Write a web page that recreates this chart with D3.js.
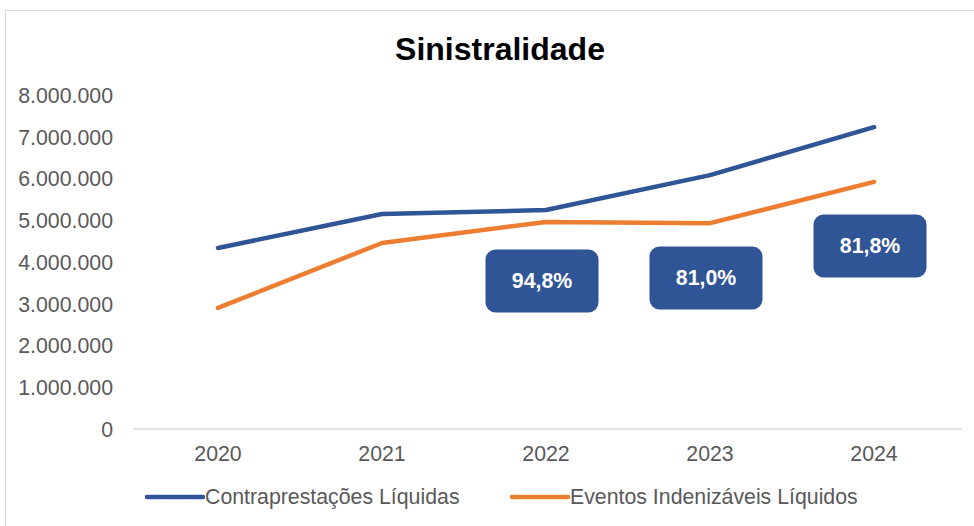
<!DOCTYPE html>
<html lang="pt">
<head>
<meta charset="UTF-8">
<title>Sinistralidade</title>
<script src="https://d3js.org/d3.v7.min.js"></script>
<style>
  body { margin: 0; background: #fff; overflow: hidden; }
  svg { font-family: "Liberation Sans", Arial, sans-serif; }
  .tick text { fill: #595959; }
</style>
</head>
<body>
<div id="chart"></div>
<script>
// data
const years = ["2020", "2021", "2022", "2023", "2024"];
const contraprestacoes = [4335000, 5150000, 5245000, 6080000, 7230000];
const eventos = [2900000, 4455000, 4960000, 4930000, 5920000];
const ratioYears = ["2022", "2023", "2024"];
const ratioLabels = ["94,8%", "81,0%", "81,8%"];
const ratioAnchor = [3545000, 3617000, 4383000]; // vertical centre of each box, in axis units
const yTicks = [0, 1000000, 2000000, 3000000, 4000000, 5000000, 6000000, 7000000, 8000000];

const W = 974, H = 526;
const blue = "#2F5597", orange = "#ED7D31";
const fs = 21.3;

const svg = d3.select("#chart").append("svg")
    .attr("width", W).attr("height", H);

// outer chart border (runs off the right and bottom)
svg.append("rect")
    .attr("x", 5.5).attr("y", 10.5)
    .attr("width", 1200).attr("height", 1200)
    .attr("fill", "none").attr("stroke", "#d9d9d9");

svg.append("text")
    .attr("x", 500).attr("y", 60)
    .attr("text-anchor", "middle")
    .attr("font-size", 32).attr("font-weight", "bold")
    .text("Sinistralidade");

const x = d3.scaleBand().domain(years).range([136, 956]);
const y = d3.scaleLinear().domain([0, 8000000]).range([429, 95]);
const fmt = d => d3.format(",")(d).replace(/,/g, ".");

// y axis labels only
const ya = svg.append("g")
    .attr("transform", "translate(113,0)")
    .call(d3.axisLeft(y).tickValues(yTicks).tickFormat(fmt).tickSize(0).tickPadding(0));
ya.select(".domain").remove();
ya.selectAll("text").attr("font-size", fs).attr("font-family", "Liberation Sans, Arial").attr("dy", "0.35em");

// x axis with baseline
const xa = svg.append("g")
    .attr("transform", "translate(0,429)")
    .call(d3.axisBottom(x).tickSize(0).tickPadding(17));
xa.select(".domain").attr("stroke", "#d9d9d9").attr("stroke-width", 1.5)
    .attr("d", "M133,0H962");
xa.selectAll("text").attr("font-size", fs).attr("font-family", "Liberation Sans, Arial");

const line = d3.line()
    .x((d, i) => x(years[i]) + x.bandwidth() / 2)
    .y(d => y(d));

svg.append("path").datum(contraprestacoes)
    .attr("d", line).attr("fill", "none")
    .attr("stroke", blue).attr("stroke-width", 4.5)
    .attr("stroke-linecap", "round").attr("stroke-linejoin", "round");

svg.append("path").datum(eventos)
    .attr("d", line).attr("fill", "none")
    .attr("stroke", orange).attr("stroke-width", 4.5)
    .attr("stroke-linecap", "round").attr("stroke-linejoin", "round");

// ratio boxes
const bw = 113, bh = 63;
const boxes = svg.selectAll(".ratio").data(ratioLabels).enter().append("g")
    .attr("class", "ratio")
    .attr("transform", (d, i) => `translate(${x(ratioYears[i]) + x.bandwidth() / 2 - 4},${y(ratioAnchor[i])})`);
boxes.append("rect")
    .attr("x", -bw / 2).attr("y", -bh / 2)
    .attr("width", bw).attr("height", bh)
    .attr("rx", 10).attr("fill", blue);
boxes.append("text")
    .attr("text-anchor", "middle").attr("dy", "0.35em")
    .attr("fill", "#fff").attr("font-size", fs).attr("font-weight", "bold")
    .text(d => d);

// legend
const legend = [
  { name: "Contraprestações Líquidas", color: blue, x: 147 },
  { name: "Eventos Indenizáveis Líquidos", color: orange, x: 512 }
];
const lg = svg.selectAll(".lg").data(legend).enter().append("g")
    .attr("transform", d => `translate(${d.x},497)`);
lg.append("line")
    .attr("x1", 0).attr("x2", 56)
    .attr("stroke", d => d.color).attr("stroke-width", 4.5)
    .attr("stroke-linecap", "round");
lg.append("text")
    .attr("x", 58).attr("dy", "0.35em")
    .attr("font-size", fs).attr("fill", "#595959")
    .text(d => d.name);
</script>
</body>
</html>
